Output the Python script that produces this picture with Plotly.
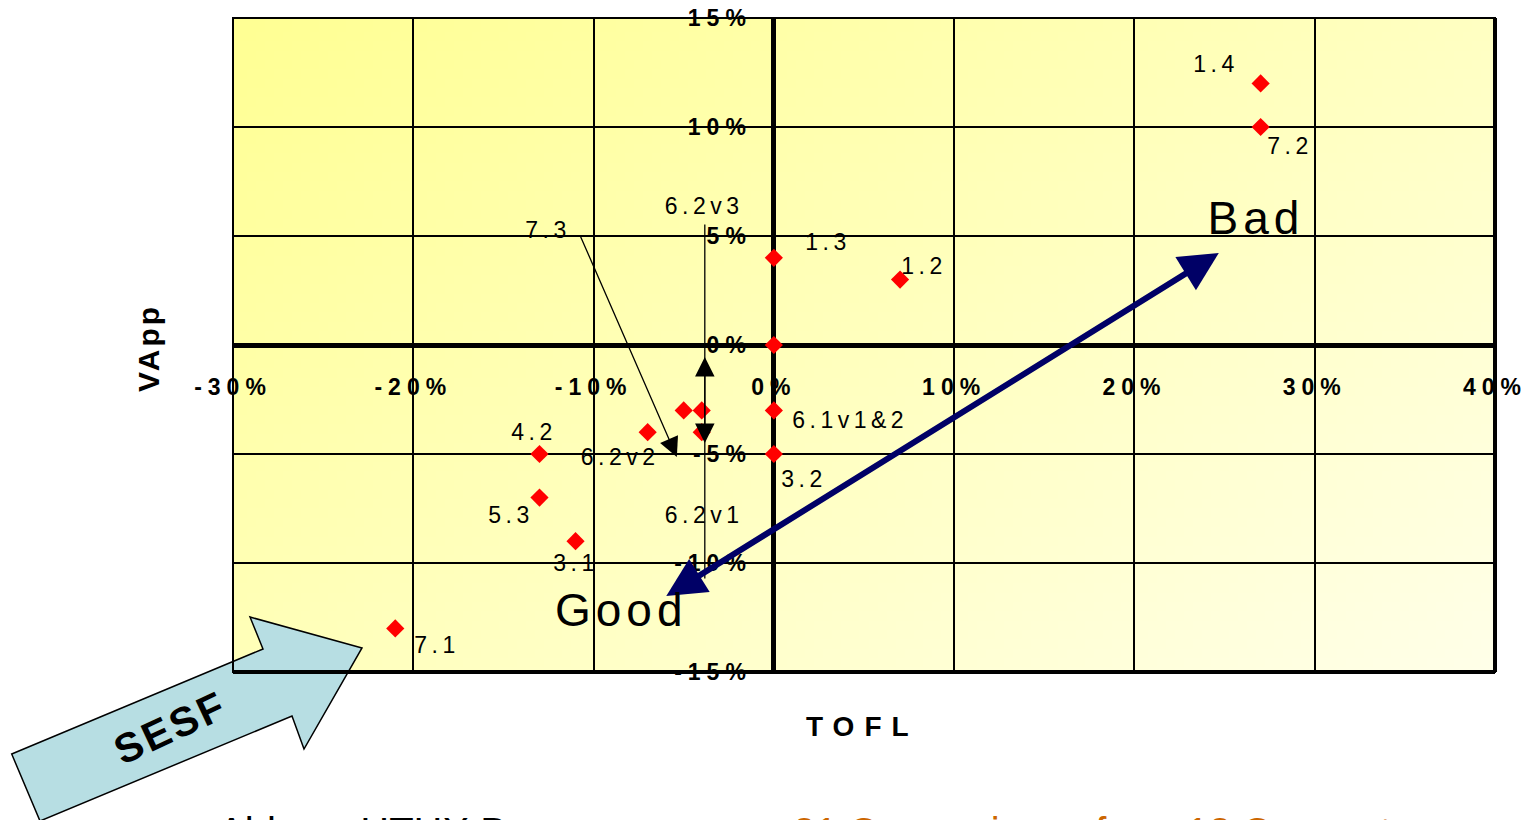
import base64, struct, zlib
import plotly.graph_objects as go

# ---------------- data ----------------
point_names = ["1.4", "7.2", "1.3", "1.2", "", "6.1v1&2", "3.2", "7.3",
               "6.2v1", "6.2v3", "6.2v2", "4.2", "5.3", "3.1", "7.1"]
tofl = [27, 27, 0, 7, 0, 0, 0, -5, -4, -4, -7, -13, -13, -11, -21]
vapp = [12, 10, 4, 3, 0, -3, -5, -3, -3, -4, -4, -5, -7, -9, -13]

x_tick_vals = [-30, -20, -10, 0, 10, 20, 30, 40]
x_tick_labels = ["-30%", "-20%", "-10%", "0%", "10%", "20%", "30%", "40%"]
y_tick_vals = [-15, -10, -5, 0, 5, 10, 15]
y_tick_labels = ["-15%", "-10%", "-5%", "0%", "5%", "10%", "15%"]

x_title = "TOFL"
y_title = "VApp"
bad_text = "Bad"
good_text = "Good"
sesf_text = "SESF"
bottom_black = "Able vs HTHX Base cases"
bottom_orange = "21 Comparisons from 12 Concepts"

# ---------------- styles / positions ----------------
# label pixel offsets (dx right, dy up) from each point
label_offsets = {
    "1.4": (-45, 19), "7.2": (29, -19), "1.3": (54, 16), "1.2": (24, 14),
    "6.1v1&2": (76, -10), "3.2": (30, -25), "7.3": (-136, 180),
    "6.2v1": (2, -105), "6.2v3": (2, 226), "6.2v2": (-28, -25),
    "4.2": (-5, 22), "5.3": (-28, -17), "3.1": (0, -22), "7.1": (42, -17),
}
# leader arrows (tail -> head) in axis units
leaders = [((-10.76, 5.05), (-5.38, -5.14)),
           ((-3.83, 5.60), (-3.83, -4.50)),
           ((-3.83, -10.78), (-3.83, -0.55))]
trend_ends = ((-6.05, -11.56), (24.68, 4.22))

FONT = "Liberation Sans, Arial, sans-serif"
L, R, T, B = 233, 35, 18, 148
W, H = 1530, 820
PW, PH = W - L - R, H - T - B


def px2paper(px, py):
    return (px - L) / PW, (H - B - py) / PH


# background gradient image (diagonal light yellow)
def make_png(w, h):
    rows = []
    for j in range(h):
        row = bytearray([0])
        for i in range(w):
            t = (i / (w - 1) * 0.55 + j / (h - 1) * 0.45)
            b = int(148 + 85 * t)
            row += bytes([255, 255, min(b, 255)])
        rows.append(bytes(row))
    raw = b"".join(rows)

    def chunk(tp, d):
        return struct.pack(">I", len(d)) + tp + d + struct.pack(">I", zlib.crc32(tp + d) & 0xffffffff)
    png = b"\x89PNG\r\n\x1a\n" + chunk(b"IHDR", struct.pack(">IIBBBBB", w, h, 8, 2, 0, 0, 0)) \
        + chunk(b"IDAT", zlib.compress(raw, 9)) + chunk(b"IEND", b"")
    return "data:image/png;base64," + base64.b64encode(png).decode()


fig = go.Figure()
fig.add_trace(go.Scatter(
    x=tofl, y=vapp, mode="markers",
    marker=dict(symbol="diamond", size=14, color="#FF0000", line=dict(width=0)),
    hoverinfo="skip", showlegend=False))

annotations = []
for name, xv, yv in zip(point_names, tofl, vapp):
    if not name:
        continue
    dx, dy = label_offsets[name]
    annotations.append(dict(x=xv, y=yv, xref="x", yref="y", text=name, showarrow=False,
                            xshift=dx, yshift=dy, xanchor="center", yanchor="middle",
                            font=dict(family=FONT, size=23, color="black")))

for (tx, ty), (hx, hy) in leaders:
    annotations.append(dict(x=hx, y=hy, ax=tx, ay=ty, xref="x", yref="y", axref="x", ayref="y",
                            text="", showarrow=True, arrowhead=2, arrowsize=3.0, arrowwidth=1.3,
                            arrowcolor="black", standoff=0, startstandoff=0))

(sx, sy), (ex, ey) = trend_ends
annotations.append(dict(x=ex, y=ey, ax=sx, ay=sy, xref="x", yref="y", axref="x", ayref="y",
                        text="", showarrow=True, arrowside="end+start", arrowhead=2, startarrowhead=2,
                        arrowsize=1.3, startarrowsize=1.3, arrowwidth=6, arrowcolor="#000066",
                        standoff=0, startstandoff=0))

annotations.append(dict(x=26.73, y=5.83, xref="x", yref="y", text=bad_text, showarrow=False,
                        xanchor="center", yanchor="middle",
                        font=dict(family=FONT, size=46, color="black")))
annotations.append(dict(x=-8.43, y=-12.16, xref="x", yref="y", text=good_text, showarrow=False,
                        xanchor="center", yanchor="middle",
                        font=dict(family=FONT, size=46, color="black")))

# axis titles
ax_, ay_ = px2paper(862, 727)
annotations.append(dict(x=ax_, y=ay_, xref="paper", yref="paper", text=f"<b>{x_title}</b>",
                        showarrow=False, xanchor="center", yanchor="middle",
                        font=dict(family=FONT, size=28, color="black")))
ax_, ay_ = px2paper(148, 348)
annotations.append(dict(x=ax_, y=ay_, xref="paper", yref="paper", text=f"<b>{y_title}</b>",
                        showarrow=False, textangle=-90, xanchor="center", yanchor="middle",
                        font=dict(family=FONT, size=30, color="black")))

# SESF block arrow
poly = [(11.7, 754), (263, 649), (250, 617), (362, 648), (304, 749), (292, 716), (40, 821)]
pp = [px2paper(*p) for p in poly]
path = "M " + " L ".join(f"{a:.5f},{b:.5f}" for a, b in pp) + " Z"
shapes = [dict(type="path", path=path, xref="paper", yref="paper", fillcolor="#B7DEE3",
               line=dict(color="black", width=1.5), layer="above")]
ax_, ay_ = px2paper(170, 728)
annotations.append(dict(x=ax_, y=ay_, xref="paper", yref="paper", text=f"<b>{sesf_text}</b>",
                        showarrow=False, textangle=-25, xanchor="center", yanchor="middle",
                        font=dict(family=FONT, size=41, color="black")))

# bottom (cut-off) text
ax_, ay_ = px2paper(216, 832)
annotations.append(dict(x=ax_, y=ay_, xref="paper", yref="paper", text=bottom_black, showarrow=False,
                        xanchor="left", yanchor="middle", font=dict(family=FONT, size=40, color="black")))
ax_, ay_ = px2paper(791, 832)
annotations.append(dict(x=ax_, y=ay_, xref="paper", yref="paper", text=bottom_orange, showarrow=False,
                        xanchor="left", yanchor="middle", font=dict(family=FONT, size=40, color="#CC6600")))

# plot frame
shapes += [
    dict(type="rect", xref="paper", yref="paper", x0=0, y0=0, x1=1, y1=1,
         line=dict(color="black", width=2), layer="above"),
    dict(type="line", xref="paper", yref="paper", x0=0, y0=0, x1=1, y1=0,
         line=dict(color="black", width=4), layer="above"),
    dict(type="line", xref="paper", yref="paper", x0=1, y0=0, x1=1, y1=1,
         line=dict(color="black", width=4), layer="above"),
]

fig.update_layout(
    width=W, height=H, margin=dict(l=L, r=R, t=T, b=B, autoexpand=False),
    paper_bgcolor="white", plot_bgcolor="#FFFFCC",
    showlegend=False, hovermode=False,
    annotations=annotations, shapes=shapes,
    images=[dict(source=make_png(140, 70), xref="x", yref="y", x=-30, y=15, sizex=70, sizey=30,
                 sizing="stretch", xanchor="left", yanchor="top", layer="below")],
    xaxis=dict(range=[-30, 40], tickvals=x_tick_vals, ticktext=x_tick_labels,
               showgrid=True, gridcolor="black", gridwidth=2,
               zeroline=True, zerolinecolor="black", zerolinewidth=5,
               showline=False, ticks="", anchor="free", position=0.5,
               ticklabelstandoff=26,
               tickfont=dict(family=FONT, size=23, color="black", weight="bold"),
               fixedrange=True),
    yaxis=dict(range=[-15, 15], tickvals=y_tick_vals, ticktext=y_tick_labels,
               showgrid=True, gridcolor="black", gridwidth=2,
               zeroline=True, zerolinecolor="black", zerolinewidth=5,
               showline=False, ticks="", anchor="free", position=30 / 70,
               ticklabelstandoff=22,
               tickfont=dict(family=FONT, size=23, color="black", weight="bold"),
               fixedrange=True),
)

post = """
var gd = document.getElementById('{plot_id}');
var sp = {"Bad": 5, "Good": 5, "SESF": 3, "TOFL": 10, "VApp": 3};
function applyLS(){
  gd.querySelectorAll('text.annotation-text').forEach(function(t){
    var k = t.textContent;
    var v = (k in sp) ? sp[k] : (k.length > 12 ? 0 : 4.5);
    t.style.letterSpacing = v + 'px';
  });
  gd.querySelectorAll('g.xtick text, g.ytick text').forEach(function(t){
    t.style.letterSpacing = '6px';
  });
}
applyLS();
gd.on('plotly_afterplot', applyLS);
"""

fig.write_html("out.html", config={"displayModeBar": False, "staticPlot": True}, post_script=post)
